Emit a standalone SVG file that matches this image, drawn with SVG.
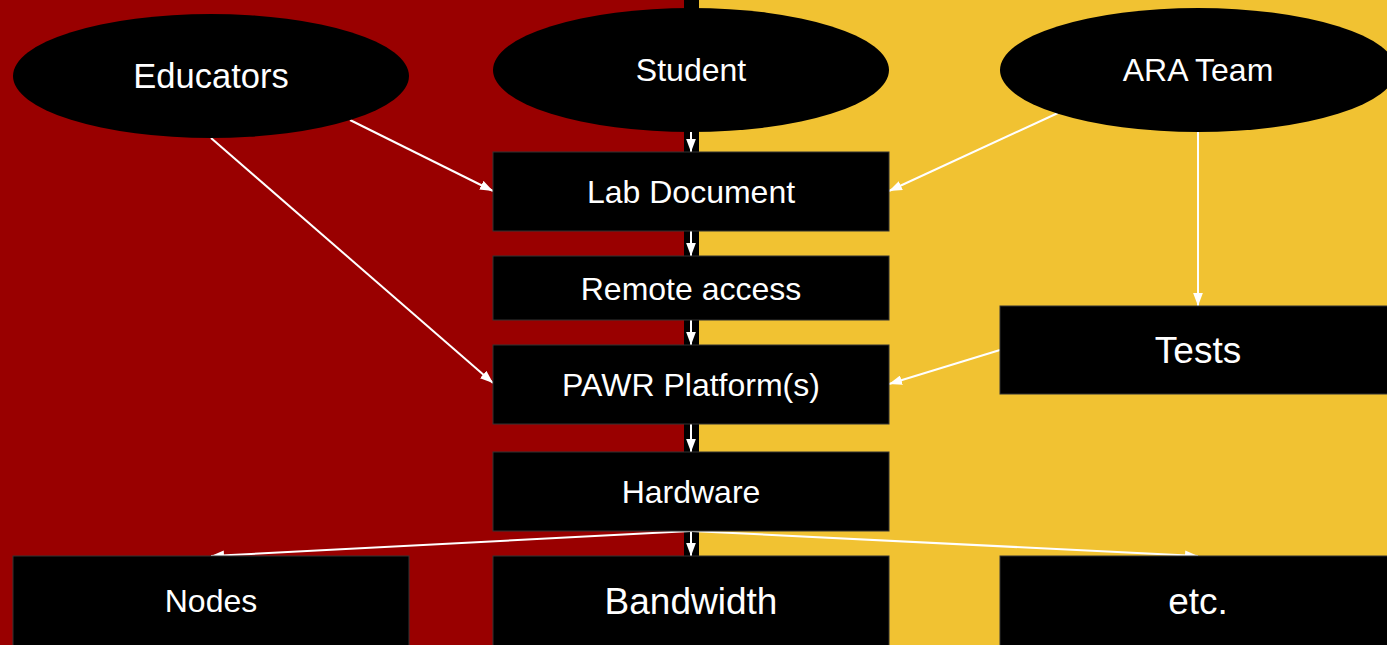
<svg xmlns="http://www.w3.org/2000/svg" width="1387" height="645" viewBox="0 0 1387 645">
<style>
.n{fill:#000;stroke:#333;stroke-width:1}
.e{fill:#000}
.t{fill:#fff;font-family:"Liberation Sans",Arial,sans-serif;text-anchor:middle;dominant-baseline:central}
.c{stroke:#fff;stroke-width:2;fill:none;marker-end:url(#ah)}
</style>
<defs>
<marker id="ah" viewBox="0 0 12 9" refX="12" refY="4.5" markerWidth="13" markerHeight="10" markerUnits="userSpaceOnUse" orient="auto"><path d="M0,0 L12,4.5 L0,9 z" fill="#fff"/></marker>
</defs>
<rect x="0" y="0" width="1387" height="645" fill="#000"/>
<rect x="0" y="0" width="684" height="645" fill="#990000"/>
<rect x="699" y="0" width="688" height="645" fill="#f1c232"/>
<g id="connectors">
<line class="c" x1="691" y1="132" x2="691" y2="152"/>
<line class="c" x1="691" y1="231" x2="691" y2="256"/>
<line class="c" x1="691" y1="320" x2="691" y2="345"/>
<line class="c" x1="691" y1="424" x2="691" y2="452"/>
<line class="c" x1="691" y1="531" x2="691" y2="556"/>
<line class="c" x1="691" y1="531" x2="211" y2="556"/>
<line class="c" x1="691" y1="531" x2="1198" y2="556"/>
<line class="c" x1="350" y1="120" x2="493" y2="191"/>
<line class="c" x1="211" y1="138" x2="493" y2="383"/>
<line class="c" x1="1058" y1="113" x2="889" y2="191"/>
<line class="c" x1="1198" y1="132" x2="1198" y2="306"/>
<line class="c" x1="1000" y1="350" x2="889" y2="384"/>
</g>
<g id="educators"><ellipse class="e" cx="211" cy="76" rx="198" ry="62"/><text class="t" x="211" y="76" font-size="34.5">Educators</text></g>
<g id="student"><ellipse class="e" cx="691" cy="70" rx="198" ry="62"/><text class="t" x="691" y="70" font-size="32">Student</text></g>
<g id="ara"><ellipse class="e" cx="1198" cy="70" rx="198" ry="62"/><text class="t" x="1198" y="70" font-size="32">ARA Team</text></g>
<g id="lab"><rect class="n" x="493" y="152" width="396" height="79"/><text class="t" x="691" y="192" font-size="32">Lab Document</text></g>
<g id="remote"><rect class="n" x="493" y="256" width="396" height="64"/><text class="t" x="691" y="289" font-size="32">Remote access</text></g>
<g id="pawr"><rect class="n" x="493" y="345" width="396" height="79"/><text class="t" x="691" y="385" font-size="32">PAWR Platform(s)</text></g>
<g id="hardware"><rect class="n" x="493" y="452" width="396" height="79"/><text class="t" x="691" y="492" font-size="32">Hardware</text></g>
<g id="tests"><rect class="n" x="1000" y="306" width="388" height="88"/><text class="t" x="1198" y="350" font-size="37">Tests</text></g>
<g id="nodes"><rect class="n" x="13" y="556" width="396" height="90"/><text class="t" x="211" y="601" font-size="32">Nodes</text></g>
<g id="bandwidth"><rect class="n" x="493" y="556" width="396" height="90"/><text class="t" x="691" y="601" font-size="37">Bandwidth</text></g>
<g id="etc"><rect class="n" x="1000" y="556" width="388" height="90"/><text class="t" x="1198" y="601" font-size="37">etc.</text></g>
</svg>
